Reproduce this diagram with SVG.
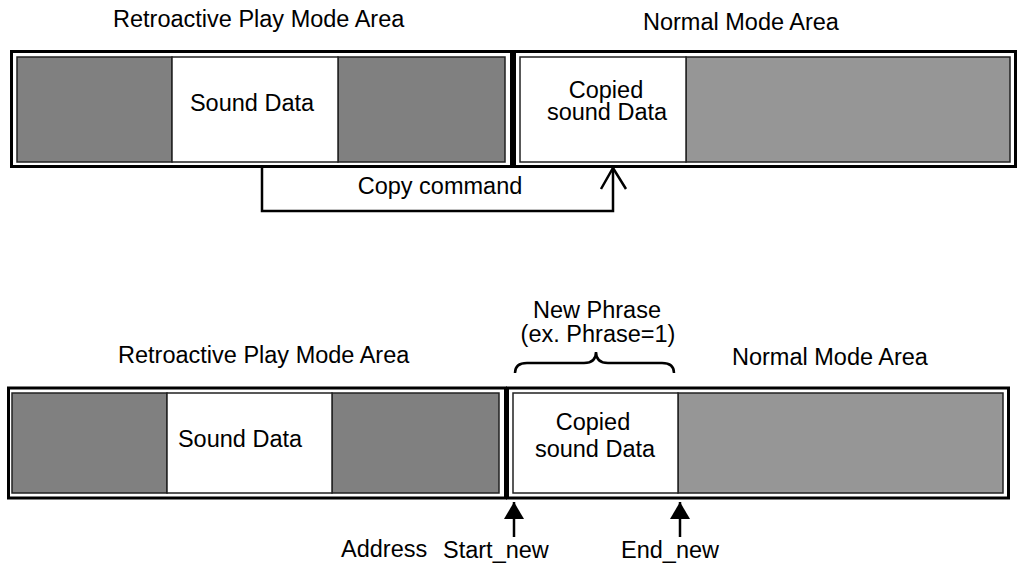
<svg xmlns="http://www.w3.org/2000/svg" width="1018" height="566" viewBox="0 0 1018 566">
<defs>
<style>
text{font-family:"Liberation Sans",Arial,sans-serif;font-size:23.5px;fill:#000}
.outer{fill:#fff;stroke:#000;stroke-width:3}
.dark{fill:#808080;stroke:#222;stroke-width:1.5}
.light{fill:#969696;stroke:#222;stroke-width:1.5}
.white{fill:#fff;stroke:#222;stroke-width:1.5}
.conn{fill:none;stroke:#000;stroke-width:2.5}
.m{text-anchor:middle}
</style>
</defs>
<rect width="1018" height="566" fill="#fff"/>
<g id="top-labels">
<text x="113" y="27">Retroactive Play Mode Area</text>
<text x="643" y="30">Normal Mode Area</text>
</g>
<g id="top-retro-area">
<rect class="outer" x="11.5" y="51.5" width="500" height="115"/>
<rect class="dark" x="17" y="57" width="155" height="105"/>
<rect class="dark" x="338" y="57" width="167" height="105"/>
</g>
<g id="top-sound-data">
<rect class="white" x="172" y="57" width="166" height="105"/>
<text class="m" x="252" y="111">Sound Data</text>
</g>
<g id="top-normal-area">
<rect class="outer" x="514.5" y="51.5" width="501" height="115"/>
<rect class="light" x="686" y="57" width="324" height="105"/>
</g>
<g id="top-copied">
<rect class="white" x="520" y="57" width="166" height="105"/>
<text class="m" x="606" y="98">Copied</text>
<text class="m" x="607" y="120">sound Data</text>
</g>
<g id="connectors">
<polyline class="conn" points="262,167 262,211 613,211 613,168"/>
<polyline class="conn" points="601,189 613,168 626,189"/>
<line class="conn" x1="514" y1="502" x2="514" y2="537"/>
<polygon points="514,502 504,519 524,519" fill="#000"/>
<line class="conn" x1="680" y1="502" x2="680" y2="537"/>
<polygon points="680,502 670,519 690,519" fill="#000"/>
<path class="conn" stroke-width="1.8" d="M515,373 Q515,363 527,363 L584,363 Q596,363 596,352 Q596,363 608,363 L662,363 Q674,363 674,373"/>
</g>
<g id="copy-label">
<text class="m" x="440" y="194">Copy command</text>
</g>
<g id="bottom-labels">
<text x="118" y="363">Retroactive Play Mode Area</text>
<text x="732" y="365">Normal Mode Area</text>
<text class="m" x="597" y="318">New Phrase</text>
<text class="m" x="598" y="342">(ex. Phrase=1)</text>
</g>
<g id="bottom-retro-area">
<rect class="outer" x="8.5" y="388" width="497" height="110"/>
<rect class="dark" x="12" y="393" width="155" height="100"/>
<rect class="dark" x="332" y="393" width="167" height="100"/>
</g>
<g id="bottom-sound-data">
<rect class="white" x="167" y="393" width="165" height="100"/>
<text class="m" x="240" y="447">Sound Data</text>
</g>
<g id="bottom-normal-area">
<rect class="outer" x="507.5" y="388" width="501" height="110"/>
<rect class="light" x="678" y="393" width="325" height="100"/>
</g>
<g id="bottom-copied">
<rect class="white" x="513" y="393" width="165" height="100"/>
<text class="m" x="593" y="430">Copied</text>
<text class="m" x="595" y="457">sound Data</text>
</g>
<g id="address-labels">
<text x="341" y="557">Address</text>
<text x="443" y="558">Start_new</text>
<text class="m" x="670" y="558">End_new</text>
</g>
</svg>
